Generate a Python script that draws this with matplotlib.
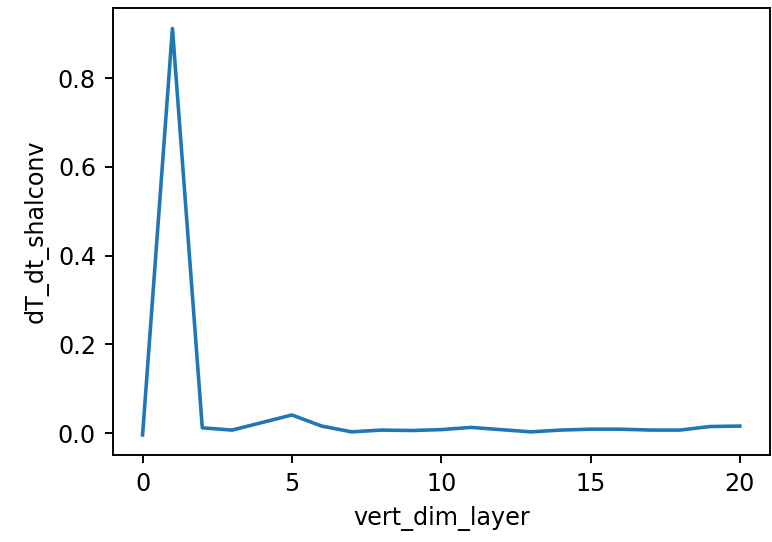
import numpy as np
import matplotlib
matplotlib.use("Agg")
import matplotlib.pyplot as plt

# vertical layer index and tendency values
vert_dim_layer = np.arange(21)
dT_dt_shalconv = [-0.004, 0.912, 0.012, 0.007, 0.024, 0.041, 0.016, 0.003,
                  0.007, 0.006, 0.008, 0.013, 0.008, 0.003, 0.007, 0.009,
                  0.009, 0.007, 0.007, 0.015, 0.016]
x_ticks = [0, 5, 10, 15, 20]

DPI = 172
fig = plt.figure(figsize=(772 / DPI, 542 / DPI), dpi=DPI)
ax = fig.add_axes([0.146, 0.160, 0.851, 0.825])
ax.plot(vert_dim_layer, dT_dt_shalconv)
ax.set_xticks(x_ticks)
ax.set_xlabel('vert_dim_layer')
ax.set_ylabel('dT_dt_shalconv')
fig.savefig('out.png', dpi=DPI)
